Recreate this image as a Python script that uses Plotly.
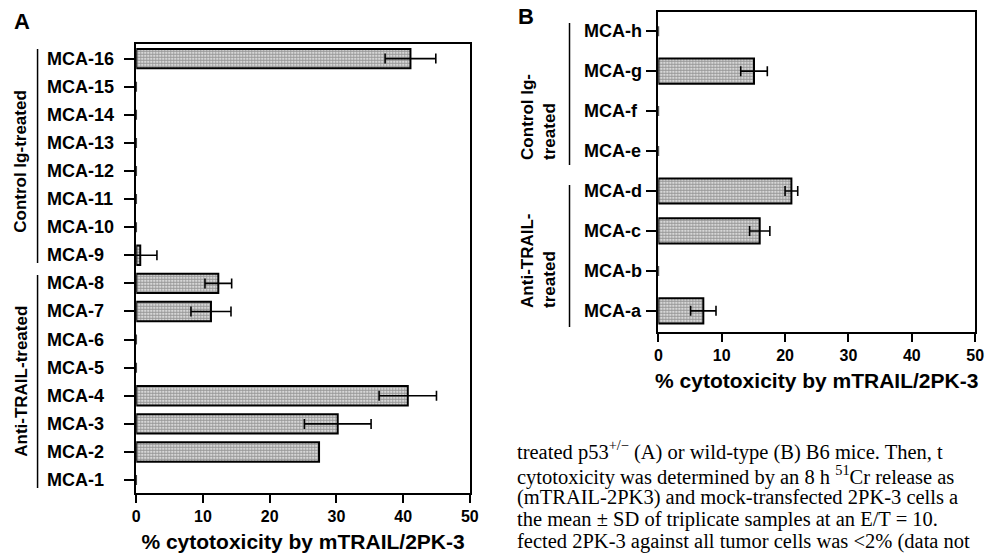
import plotly.graph_objects as go

# ---------------- data ----------------
a_labels = ["MCA-1", "MCA-2", "MCA-3", "MCA-4", "MCA-5", "MCA-6", "MCA-7", "MCA-8",
            "MCA-9", "MCA-10", "MCA-11", "MCA-12", "MCA-13", "MCA-14", "MCA-15", "MCA-16"]
a_values = [0, 27.4, 30.2, 40.7, 0, 0, 11.2, 12.3, 0.6, 0, 0, 0, 0, 0, 0, 41.1]
a_sd = [None, None, 5.0, 4.3, None, None, 3.0, 2.0, 2.5, None, None, None, None, None, None, 3.8]

b_labels = ["MCA-a", "MCA-b", "MCA-c", "MCA-d", "MCA-e", "MCA-f", "MCA-g", "MCA-h"]
b_values = [7.1, 0, 16.0, 21.0, 0, 0, 15.1, 0]
b_sd = [2.0, None, 1.6, 1.0, None, None, 2.1, None]

x_ticks = [0, 10, 20, 30, 40, 50]
x_title = "% cytotoxicity by mTRAIL/2PK-3"

caption_lines = [
    "treated p53<sup>+/\u2212</sup> (A) or wild-type (B) B6 mice. Then, t",
    "cytotoxicity was determined by an 8 h <sup>51</sup>Cr release as",
    "(mTRAIL-2PK3) and mock-transfected 2PK-3 cells a",
    "the mean \u00b1 SD of triplicate samples at an E/T = 10.",
    "fected 2PK-3 against all tumor cells was &lt;2% (data not",
]

W, H = 995, 557
SANS = "Liberation Sans"


def px(x):
    return x / W


def py(y):
    return 1 - y / H


def bar_style(values):
    return dict(
        color="white",
        line=dict(color="black", width=[2 if v > 0 else 0 for v in values]),
        pattern=dict(shape=".", size=3, solidity=0.7, fgcolor="#333333", bgcolor="white"),
    )


fig = go.Figure()
fig.add_trace(go.Bar(
    y=a_labels, x=a_values, orientation="h", width=0.69,
    marker=bar_style(a_values),
    error_x=dict(type="data", array=a_sd, visible=True, color="black", thickness=1.6, width=5),
    xaxis="x", yaxis="y", showlegend=False,
))
fig.add_trace(go.Bar(
    y=b_labels, x=b_values, orientation="h", width=0.63,
    marker=bar_style(b_values),
    error_x=dict(type="data", array=b_sd, visible=True, color="black", thickness=1.6, width=5),
    xaxis="x2", yaxis="y2", showlegend=False,
))

tickfont = dict(family=SANS, size=16, color="black", weight="bold")
titlefont = dict(family=SANS, size=21, color="black", weight="bold")
labelfont = dict(family=SANS, size=18, color="black", weight="bold")
xcommon = dict(
    range=[0, 50], tickvals=x_ticks, ticks="outside", ticklen=8, tickwidth=1.5,
    tickcolor="black", showline=True, linecolor="black", linewidth=2, mirror=True,
    showgrid=False, zeroline=False, tickfont=tickfont,
    title=dict(text=x_title, font=titlefont, standoff=10),
)
ycommon = dict(
    type="category", ticks="outside", ticklen=10, tickwidth=1.5, tickcolor="black",
    showline=True, linecolor="black", linewidth=2, mirror=True, showgrid=False,
    zeroline=False, showticklabels=False,
)

fig.update_layout(
    width=W, height=H, margin=dict(l=0, r=0, t=0, b=0),
    paper_bgcolor="white", plot_bgcolor="white", bargap=0.3,
    xaxis=dict(domain=[px(134), px(472)], anchor="y", **xcommon),
    yaxis=dict(domain=[py(493), py(44)], anchor="x", categoryarray=a_labels,
               range=[-0.46, 15.52], **ycommon),
    xaxis2=dict(domain=[px(663), px(984)], anchor="y2", **xcommon),
    yaxis2=dict(domain=[py(332), py(12)], anchor="x2", categoryarray=b_labels,
                range=[-0.53, 7.48], **ycommon),
)

grpfont = dict(family=SANS, size=17, color="black", weight="bold")
annotations = [
    dict(text="A", x=px(18), y=py(21), font=dict(family=SANS, size=22, color="black", weight="bold")),
    dict(text="B", x=px(529), y=py(17), font=dict(family=SANS, size=22, color="black", weight="bold")),
    dict(text="Control Ig-treated", x=px(17), y=py(161), textangle=-90, font=grpfont),
    dict(text="Anti-TRAIL-treated", x=px(17), y=py(381), textangle=-90, font=grpfont),
    dict(text="Control Ig-<br>treated", x=px(542), y=py(117), textangle=-90, align="left", font=grpfont),
    dict(text="Anti-TRAIL-<br>treated", x=px(542), y=py(261), textangle=-90, align="left", font=grpfont),
]
for a in annotations:
    a.setdefault("xanchor", "center")
    a.setdefault("yanchor", "middle")
    a.update(xref="paper", yref="paper", showarrow=False)

# left-aligned category labels, placed through the category axes
for lab in a_labels:
    annotations.append(dict(text=lab, x=px(42), y=lab, xref="paper", yref="y",
                            xanchor="left", yanchor="middle", showarrow=False, font=labelfont))
for lab in b_labels:
    annotations.append(dict(text=lab, x=px(586), y=lab, xref="paper", yref="y2",
                            xanchor="left", yanchor="middle", showarrow=False, font=labelfont))

# caption text (one annotation per line for exact line spacing)
cap_y = [450, 475, 497, 519, 541]
for line, yy in zip(caption_lines, cap_y):
    annotations.append(dict(text=line, x=px(519), y=py(yy), xref="paper", yref="paper",
                            xanchor="left", yanchor="middle", showarrow=False, borderpad=0,
                            font=dict(family="Liberation Serif", size=20.5, color="black")))
fig.update_layout(annotations=annotations)

lines = [(34, 49, 263), (34, 275, 488), (573, 23, 165), (573, 185, 327)]
for x, y0, y1 in lines:
    fig.add_shape(type="line", xref="paper", yref="paper", x0=px(x), x1=px(x),
                  y0=py(y0), y1=py(y1), line=dict(color="black", width=1.5))

fig.write_html("out.html", config={"displayModeBar": False},
               post_script="document.body.style.margin='0px';")
